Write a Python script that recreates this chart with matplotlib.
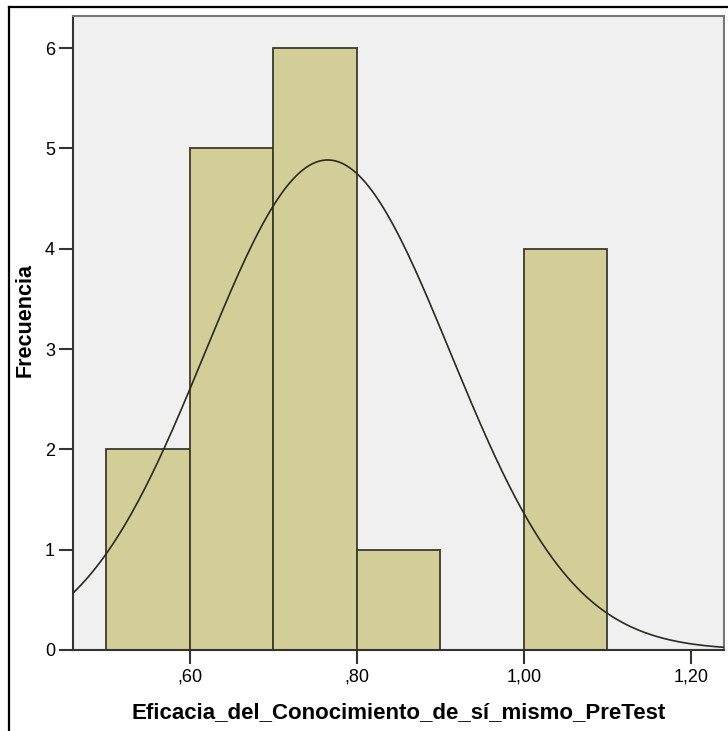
import numpy as np
import matplotlib
matplotlib.use("Agg")
import matplotlib.pyplot as plt
from matplotlib.lines import Line2D

# histogram
bin_edges = [0.5, 0.6, 0.7, 0.8, 0.9, 1.0, 1.1]
counts = [2, 5, 6, 1, 0, 4]
n_total = 18
mean_val = 0.765
sd_val = 0.147

xticks = [0.6, 0.8, 1.0, 1.2]
xticklabels = [",60", ",80", "1,00", "1,20"]
yticks = [0, 1, 2, 3, 4, 5, 6]

plt.rcParams['font.family'] = ['Liberation Sans', 'DejaVu Sans']

fig = plt.figure(figsize=(7.28, 7.31), dpi=100)
ax = fig.add_axes([73/728, 81/731, 651/728, 634/731])
ax.set_facecolor('#f0f0f0')

widths = np.diff(bin_edges)
ax.bar(bin_edges[:-1], counts, width=widths, align='edge',
       color='#d3ce98', edgecolor='#3b3b2b', linewidth=1.3, zorder=2)

# normal curve scaled to counts
xs = np.linspace(0.46, 1.2395, 400)
ys = n_total * 0.1 / (sd_val * np.sqrt(2*np.pi)) * np.exp(-0.5*((xs-mean_val)/sd_val)**2)
ax.plot(xs, ys, color='#2a2a20', linewidth=1.2, zorder=3)

ax.set_xlim(0.46, 1.2395)
ax.set_ylim(0, 6.32)
ax.set_xticks(xticks)
ax.set_xticklabels(xticklabels)
ax.set_yticks(yticks)
ax.tick_params(axis='both', labelsize=13, length=10, width=1.5, color='#333333', pad=3)

for s in ['top', 'right']:
    ax.spines[s].set_color('#777777')
    ax.spines[s].set_linewidth(1.5)
for s in ['left', 'bottom']:
    ax.spines[s].set_color('#333333')
    ax.spines[s].set_linewidth(1.5)

ax.set_xlabel("Eficacia_del_Conocimiento_de_sí_mismo_PreTest", fontsize=16,
              fontweight='bold', labelpad=12)
ax.set_ylabel("Frecuencia", fontsize=15.5, fontweight='bold')
ax.yaxis.set_label_coords(-37/651, (650 - 320)/634)

# outer frame (cut off on the right and bottom)
fig.add_artist(Line2D([9/728, 9/728], [0, 1 - 7/731], color='black', linewidth=1.6,
                      transform=fig.transFigure))
fig.add_artist(Line2D([9/728, 1.0], [1 - 7/731, 1 - 7/731], color='black', linewidth=1.6,
                      transform=fig.transFigure))

fig.savefig("out.png", dpi=100)
